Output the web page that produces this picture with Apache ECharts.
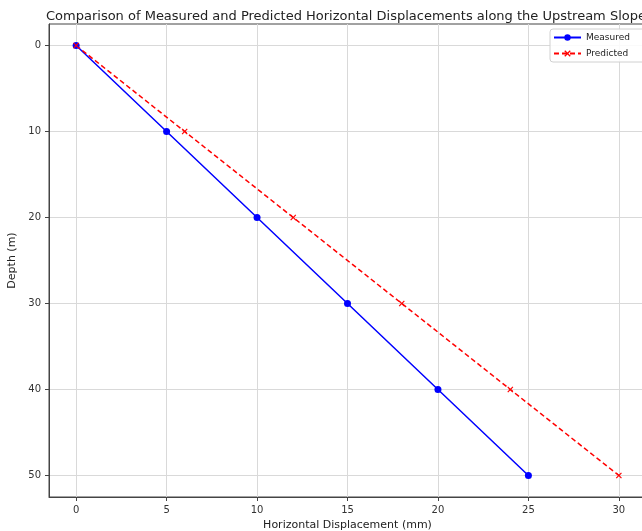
<!DOCTYPE html>
<html>
<head>
<meta charset="utf-8">
<script src="https://cdn.jsdelivr.net/npm/echarts@6/dist/echarts.min.js"></script>
<style>
  html, body { margin: 0; padding: 0; background: #fff; }
  #chart { width: 642px; height: 531px; }
</style>
</head>
<body>
<div id="chart"></div>
<script>
// data
var depth = [0, 10, 20, 30, 40, 50];
var measured = [0, 5, 10, 15, 20, 25];
var predicted = [0, 6, 12, 18, 24, 30];
var xTicks = [0, 5, 10, 15, 20, 25, 30];
var yTicks = [0, 10, 20, 30, 40, 50];

function pairs(xs, ys) {
  return xs.map(function (x, i) { return [x, ys[i]]; });
}

var font = 'DejaVu Sans';
var crossPath = 'path://M0,1.4L1.4,0L5,3.6L8.6,0L10,1.4L6.4,5L10,8.6L8.6,10L5,6.4L1.4,10L0,8.6L3.6,5Z';

var chart = echarts.init(document.getElementById('chart'));
var option = {
  animation: false,
  textStyle: { fontFamily: font },
  title: {
    text: 'Comparison of Measured and Predicted Horizontal Displacements along the Upstream Slope',
    left: 341, top: 5, textAlign: 'center',
    textStyle: { fontSize: 13, fontWeight: 'normal', color: '#222', fontFamily: font }
  },
  legend: {
    left: 550, top: 29,
    orient: 'vertical',
    backgroundColor: 'rgba(255,255,255,0.85)',
    borderColor: '#d0d0d0', borderWidth: 1, borderRadius: 3,
    padding: [4, 20, 4, 3],
    itemWidth: 27, itemHeight: 8, itemGap: 7,
    textStyle: { fontSize: 9, color: '#222', fontFamily: font },
    data: ['Measured', 'Predicted']
  },
  grid: {
    show: true, borderColor: '#444', borderWidth: 1,
    left: 49, top: 24, right: -4, bottom: 34,
    outerBoundsMode: 'none'
  },
  xAxis: {
    type: 'value', min: -1.5, max: 31.5,
    name: 'Horizontal Displacement (mm)', nameLocation: 'middle', nameGap: 23,
    nameTextStyle: { fontSize: 11, color: '#222' },
    axisLine: { onZero: false, lineStyle: { color: '#444', width: 1 } },
    axisTick: { show: true, length: 4, customValues: xTicks, lineStyle: { color: '#444' } },
    axisLabel: { customValues: xTicks, fontSize: 10, color: '#333', margin: 8 },
    splitLine: { show: true, customValues: xTicks, lineStyle: { color: '#d9d9d9', width: 1 } }
  },
  yAxis: {
    type: 'value', inverse: true, min: -2.5, max: 52.5,
    name: 'Depth (m)', nameLocation: 'middle', nameGap: 20, nameRotate: 90,
    nameTextStyle: { fontSize: 11, color: '#222' },
    axisLine: { show: true, onZero: false, lineStyle: { color: '#444', width: 1 } },
    axisTick: { show: true, length: 4, customValues: yTicks, lineStyle: { color: '#444' } },
    axisLabel: { customValues: yTicks, fontSize: 10, color: '#333', margin: 8 },
    splitLine: { show: true, customValues: yTicks, lineStyle: { color: '#d9d9d9', width: 1 } }
  },
  series: [
    {
      name: 'Measured', type: 'line',
      data: pairs(measured, depth),
      symbol: 'circle', symbolSize: 7,
      lineStyle: { color: '#0000ff', width: 1.5 },
      itemStyle: { color: '#0000ff' }
    },
    {
      name: 'Predicted', type: 'line',
      data: pairs(predicted, depth),
      symbol: crossPath, symbolSize: 6,
      lineStyle: { color: '#ff0000', width: 1.5, type: [5, 3] },
      itemStyle: { color: '#ff0000' }
    }
  ]
};
chart.setOption(option);
</script>
</body>
</html>
